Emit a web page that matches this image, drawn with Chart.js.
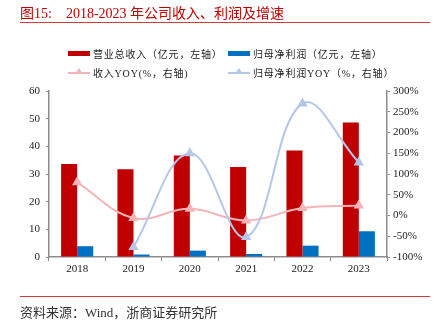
<!DOCTYPE html>
<html>
<head>
<meta charset="utf-8">
<script src="https://cdn.jsdelivr.net/npm/chart.js@4.4.1/dist/chart.umd.min.js"></script>
<style>
  html, body { margin: 0; padding: 0; background: #fff; }
  body { width: 436px; height: 325px; position: relative; overflow: hidden;
         font-family: "Liberation Serif", "Noto Sans CJK SC", serif; }
  #title { position: absolute; left: 20px; top: 2px; font-size: 14px; color: #C00000; white-space: nowrap; }
  #title .sp { display: inline-block; width: 14px; }
  .rule { position: absolute; left: 20px; width: 410px; height: 1px; background: #D43B3B; }
  #source { position: absolute; left: 20px; top: 302px; font-size: 13px; color: #333; white-space: nowrap; }
  #chartBox { position: absolute; left: 0; top: 0; width: 436px; height: 325px; }
  .lg { position: absolute; font-size: 10px; letter-spacing: 0.8px; color: #222; white-space: nowrap; display: flex; align-items: center; height: 14px; }
  .lg .sw { width: 22px; height: 14px; margin-right: 3px; position: relative; }
</style>
</head>
<body>
<div id="chartBox"><canvas id="c" width="436" height="325"></canvas></div>
<div id="title">图15:<span class="sp"></span>2018-2023 年公司收入、利润及增速</div>
<div class="rule" style="top:22px"></div>
<div class="rule" style="top:296px"></div>
<div id="source">资料来源：Wind，浙商证券研究所</div>
<div id="legend"></div>
<script>
// --- data ---
const years = ["2018", "2019", "2020", "2021", "2022", "2023"];
const revenue = [33.6, 31.7, 36.7, 32.5, 38.5, 48.6];      // 亿元
const netProfit = [3.9, 0.9, 2.3, 1.1, 4.1, 9.3];          // 亿元
const revenueYoy = [80, -6, 16, -12, 18, 24];              // %
const profitYoy = [null, -76, 150, -52, 270, 128];         // %

const RED = "#C00000";
const BLUE = "#0070C0";
const PINK = "#F4B4B8";
const LBLUE = "#B4C7E7";
const AXIS = "#8C8C8C";

const tickFont = { family: "Liberation Serif", size: 11 };

const ctx = document.getElementById("c").getContext("2d");
const chart = new Chart(ctx, {
  data: {
    labels: years,
    datasets: [
      { type: "line", label: "收入YOY(%，右轴)", data: revenueYoy, yAxisID: "y1",
        borderColor: PINK, backgroundColor: PINK, borderWidth: 2, tension: 0.4,
        pointStyle: "triangle", pointRadius: 4, order: 1 },
      { type: "line", label: "归母净利润YOY（%，右轴）", data: profitYoy, yAxisID: "y1",
        borderColor: LBLUE, backgroundColor: LBLUE, borderWidth: 2, tension: 0.4,
        pointStyle: "triangle", pointRadius: 4, order: 0 },
      { type: "bar", label: "营业总收入（亿元，左轴）", data: revenue, yAxisID: "y",
        backgroundColor: RED, order: 3, categoryPercentage: 0.57, barPercentage: 1 },
      { type: "bar", label: "归母净利润（亿元，左轴）", data: netProfit, yAxisID: "y",
        backgroundColor: BLUE, order: 3, categoryPercentage: 0.57, barPercentage: 1 },
    ],
  },
  options: {
    responsive: false,
    animation: false,
    layout: { padding: { top: 91, left: 0, right: 0, bottom: 0 } },
    plugins: { legend: { display: false }, tooltip: { enabled: false } },
    scales: {
      x: {
        offset: true,
        afterFit: (s) => { s.height = 68; },
        grid: { drawOnChartArea: false, offset: true, tickLength: 4, color: AXIS },
        border: { color: AXIS, width: 1.5 },
        ticks: { color: "#222", font: tickFont, padding: 2 },
      },
      y: {
        position: "left", min: 0, max: 60,
        afterFit: (s) => { s.width = 49; },
        grid: { drawOnChartArea: false, tickLength: 3, color: AXIS },
        border: { color: AXIS, width: 1.5 },
        ticks: { stepSize: 10, color: "#222", font: tickFont, padding: 6 },
      },
      y1: {
        position: "right", min: -100, max: 300,
        afterFit: (s) => { s.width = 49; },
        grid: { drawOnChartArea: false, tickLength: 3, color: AXIS },
        border: { color: AXIS, width: 1.5 },
        ticks: { stepSize: 50, color: "#222", font: tickFont, padding: 3,
                 callback: (v) => v + "%" },
      },
    },
  },
});

// --- legend (HTML, two columns) ---
const legendPos = [
  { ds: 2, left: 68, top: 46 },
  { ds: 3, left: 228, top: 46 },
  { ds: 0, left: 68, top: 65 },
  { ds: 1, left: 228, top: 65 },
];
const lgRoot = document.getElementById("legend");
legendPos.forEach((p) => {
  const ds = chart.data.datasets[p.ds];
  const item = document.createElement("div");
  item.className = "lg";
  item.style.left = p.left + "px";
  item.style.top = p.top + "px";
  const sw = document.createElement("span");
  sw.className = "sw";
  if (ds.type === "bar") {
    sw.innerHTML = `<span style="position:absolute;left:0;top:5px;width:22px;height:5px;background:${ds.backgroundColor}"></span>`;
  } else {
    sw.innerHTML =
      `<span style="position:absolute;left:0;top:7px;width:22px;height:2px;background:${ds.borderColor}"></span>` +
      `<span style="position:absolute;left:7px;top:3px;width:0;height:0;border-left:4px solid transparent;border-right:4px solid transparent;border-bottom:6px solid ${ds.borderColor}"></span>`;
  }
  item.appendChild(sw);
  const tx = document.createElement("span");
  tx.textContent = ds.label;
  item.appendChild(tx);
  lgRoot.appendChild(item);
});
</script>
</body>
</html>
